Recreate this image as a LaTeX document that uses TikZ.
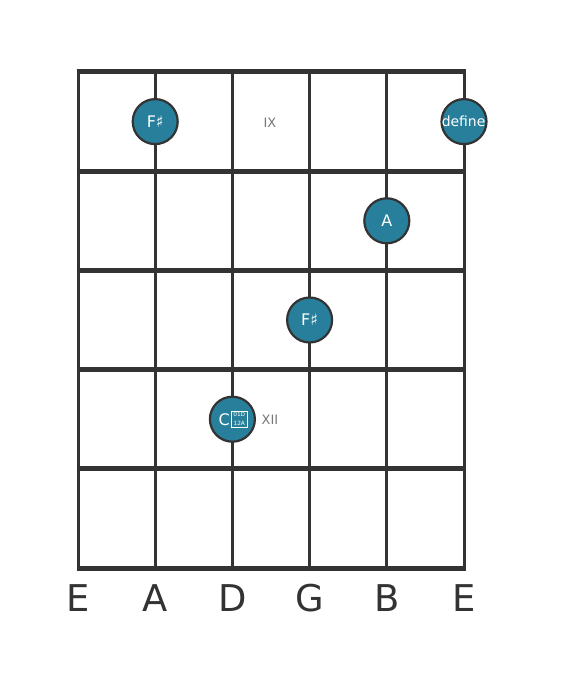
\documentclass[tikz,border=0pt]{standalone}
\usepackage{fontspec}
\setmainfont{DejaVu Sans}
\begin{document}
\begin{tikzpicture}[x=1bp,y=-1bp,
  fret/.style={line width=5bp,draw=linec},
  strg/.style={line width=3bp,draw=linec},
  dot/.style={circle,fill=dotc,draw=linec,line width=2.2bp,minimum size=45bp,inner sep=0pt,text=white,font=\fontsize{16}{16}\selectfont},
  fretlbl/.style={text=gray,font=\fontsize{13}{13}\selectfont},
  strlbl/.style={text=linec,font=\fontsize{37}{37}\selectfont},
  tofu/.style={text=white,inner sep=0pt,font=\fontsize{5.8}{5.8}\selectfont}]
\definecolor{linec}{HTML}{333333}
\definecolor{dotc}{HTML}{287F9B}
\definecolor{gray}{HTML}{777777}
\useasboundingbox (0,0) rectangle (573,682);
\fill[white] (0,0) rectangle (573,682);
% strings
\foreach \i/\x in {0/78,1/155.2,2/232.4,3/309.6,4/386.8,5/464}{
  \coordinate (st\i) at (\x,72);
  \coordinate (sb\i) at (\x,568);
  \draw[strg] (st\i) -- (sb\i);
}
% frets
\foreach \j/\y in {0/72,1/171.2,2/270.4,3/369.6,4/468.8,5/568}{
  \coordinate (fl\j) at (76.5,\y);
  \coordinate (fr\j) at (465.5,\y);
  \draw[fret] (fl\j) -- (fr\j);
}
% fret labels
\node[fretlbl] (ix) at (270,123) {IX};
\node[fretlbl] (xii) at (270,420) {XII};
% dots
\node[dot] (d1) at (155.2,121.6) {F♯};
\node[dot] (d2) at (464,121.6) {};
\begin{scope}
  \clip (464,121.6) circle (22bp);
  \node[text=white,font=\fontsize{14}{14}\selectfont] (d2t) at (468,121.6) {defined};
\end{scope}
\node[dot] (d3) at (386.8,220.8) {A};
\node[dot] (d4) at (309.6,320) {F♯};
\node[dot] (d5) at (232.4,419.2) {};
\node[text=white,font=\fontsize{16}{16}\selectfont,anchor=east,inner sep=0pt] (d5c) at (230,419.2) {C};
\draw[white,line width=0.6bp] (231.5,411) rectangle (247,427.5);
\node[tofu] (d5g1) at (239.25,414.8) {01D};
\node[tofu] (d5g2) at (239.25,423.6) {12A};
% string labels
\node[strlbl] (l0) at (78,598) {E};
\node[strlbl] (l1) at (155.2,598) {A};
\node[strlbl] (l2) at (232.4,598) {D};
\node[strlbl] (l3) at (309.6,598) {G};
\node[strlbl] (l4) at (386.8,598) {B};
\node[strlbl] (l5) at (464,598) {E};
\end{tikzpicture}
\end{document}
